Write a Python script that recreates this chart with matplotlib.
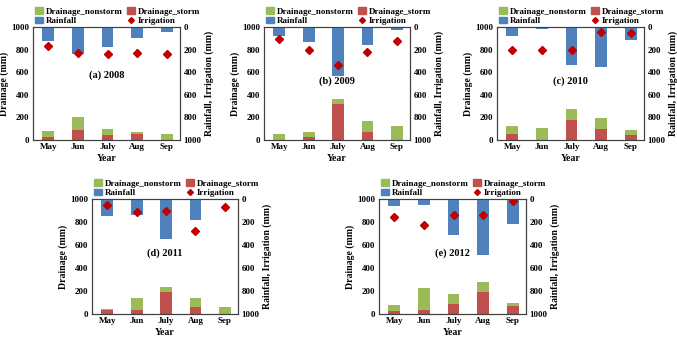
import numpy as np
import matplotlib
matplotlib.use("Agg")
import matplotlib.pyplot as plt
from matplotlib.patches import Patch
from matplotlib.lines import Line2D

plt.rcParams['font.family'] = ['Liberation Serif', 'DejaVu Serif']
plt.rcParams['font.weight'] = 'bold'

# data (mm)
months = ["May", "Jun", "July", "Aug", "Sep"]
titles = ["(a) 2008", "(b) 2009", "(c) 2010", "(d) 2011", "(e) 2012"]

storm_2008 = [30, 90, 45, 50, 0]
nonstorm_2008 = [50, 110, 50, 25, 55]
rain_2008 = [124, 241, 176, 94, 44]
irr_2008 = [170, 226, 241, 226, 238]

storm_2009 = [0, 25, 320, 70, 0]
nonstorm_2009 = [55, 45, 40, 95, 120]
rain_2009 = [79, 135, 435, 156, 24]
irr_2009 = [103, 200, 338, 221, 126]

storm_2010 = [50, 0, 180, 100, 40]
nonstorm_2010 = [70, 110, 95, 95, 45]
rain_2010 = [82, 18, 338, 356, 118]
irr_2010 = [206, 206, 200, 44, 50]

storm_2011 = [35, 35, 189, 64, 0]
nonstorm_2011 = [5, 107, 44, 78, 64]
rain_2011 = [145, 137, 346, 186, 12]
irr_2011 = [55, 110, 105, 276, 67]

storm_2012 = [29, 38, 90, 192, 70]
nonstorm_2012 = [49, 186, 82, 87, 23]
rain_2012 = [58, 52, 311, 485, 215]
irr_2012 = [157, 230, 142, 137, 15]

storms = [storm_2008, storm_2009, storm_2010, storm_2011, storm_2012]
nonstorms = [nonstorm_2008, nonstorm_2009, nonstorm_2010, nonstorm_2011, nonstorm_2012]
rains = [rain_2008, rain_2009, rain_2010, rain_2011, rain_2012]
irrs = [irr_2008, irr_2009, irr_2010, irr_2011, irr_2012]

green = "#9BBB59"
red = "#C0504D"
blue = "#4F81BD"
dred = "#C00000"

W, H = 677, 340
# axes boxes in pixels: left, right, top, bottom
boxes = [(33, 180, 27, 140), (264, 410, 27, 140), (497, 644, 27, 140),
         (92, 238, 199, 314), (379, 526, 199, 314)]
text_y = [0.57, 0.52, 0.52, 0.53, 0.53]

fig = plt.figure(figsize=(W / 100, H / 100), dpi=100)
fs = 6.5
x = np.arange(len(months))

for i in range(5):
    l, r, t, b = boxes[i]
    ax = fig.add_axes([l / W, 1 - b / H, (r - l) / W, (b - t) / H])
    ax.bar(x, storms[i], width=0.4, color=red)
    ax.bar(x, nonstorms[i], width=0.4, bottom=storms[i], color=green)
    ax.set_ylim(0, 1000)
    ax.set_yticks(range(0, 1001, 200))
    ax.set_xlim(-0.52, 4.45)
    ax.set_xticks(x)
    ax.set_xticklabels(months)
    ax.tick_params(labelsize=fs, length=0, pad=2.5)
    ax.set_ylabel("Drainage (mm)", fontsize=7, fontweight='bold', labelpad=2)
    ax.set_xlabel("Year", fontsize=7, fontweight='bold', labelpad=2)
    ax.text(0.5, text_y[i], titles[i], transform=ax.transAxes, ha='center',
            va='center', fontsize=7.5, fontweight='bold')

    ax2 = ax.twinx()
    ax2.bar(x, rains[i], width=0.4, color=blue)
    ax2.plot(x, irrs[i], 'D', color=dred, ms=3.8, linestyle='none')
    ax2.set_ylim(1000, 0)
    ax2.set_yticks(range(0, 1001, 200))
    ax2.tick_params(labelsize=fs, length=0, pad=2.5)
    ax2.set_ylabel("Rainfall, Irrigation (mm)", fontsize=7, fontweight='bold', labelpad=2)
    for a in (ax, ax2):
        for s in a.spines.values():
            s.set_linewidth(0.8)
            s.set_color('#404040')
    for lab in ax.get_xticklabels() + ax.get_yticklabels() + ax2.get_yticklabels():
        lab.set_fontweight('bold')

    handles = [Patch(color=green), Patch(color=blue), Patch(color=red),
               Line2D([], [], marker='D', color=dred, linestyle='none', ms=3)]
    labels = ["Drainage_nonstorm", "Rainfall", "Drainage_storm", "Irrigation"]
    ax.legend(handles, labels, ncol=2, loc='lower left', bbox_to_anchor=(0.01, 1.01),
              frameon=False, fontsize=fs, handlelength=0.9, handleheight=0.7,
              handletextpad=0.3, columnspacing=0.4, borderpad=0, labelspacing=0.1,
              borderaxespad=0.1)

fig.savefig("out.png", dpi=100)
